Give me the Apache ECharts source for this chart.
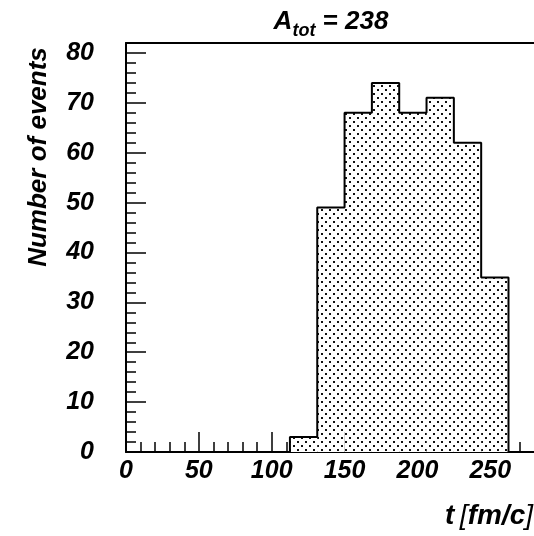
<!DOCTYPE html>
<html>
<head>
<meta charset="utf-8">
<script src="https://cdn.jsdelivr.net/npm/echarts@6/dist/echarts.min.js"></script>
<style>
  html, body { margin: 0; padding: 0; background: #fff; }
  #chart { width: 534px; height: 536px; }
</style>
</head>
<body>
<div id="chart"></div>
<script>
// histogram bins (t in fm/c) and counts
var binEdges = [112.5, 131.25, 150, 168.75, 187.5, 206.25, 225, 243.75, 262.5];
var counts = [3, 49, 68, 74, 68, 71, 62, 35];
var xMajorTicks = [0, 50, 100, 150, 200, 250];

var font = '"Liberation Sans", Arial, sans-serif';

// dotted fill like the ROOT hatch style
var tile = document.createElement('canvas');
tile.width = 8;
tile.height = 8;
var tctx = tile.getContext('2d');
tctx.fillStyle = '#fff';
tctx.fillRect(0, 0, 8, 8);
tctx.fillStyle = '#111';
tctx.fillRect(1, 1, 2, 2);
tctx.fillRect(5, 5, 2, 2);

var bars = [];
for (var i = 0; i < counts.length; i++) {
    bars.push([binEdges[i], binEdges[i + 1], counts[i]]);
}
var outline = [[binEdges[0], 0]];
for (var j = 0; j < counts.length; j++) {
    outline.push([binEdges[j], counts[j]]);
    outline.push([binEdges[j + 1], counts[j]]);
}
outline.push([binEdges[binEdges.length - 1], 0]);

var labelStyle = {
    color: '#000',
    fontFamily: font,
    fontStyle: 'italic',
    fontWeight: 'bold',
    fontSize: 25
};

var chart = echarts.init(document.getElementById('chart'));
chart.setOption({
    animation: false,
    grid: { left: 126, top: 43, right: 0, bottom: 84 },
    xAxis: [{
        type: 'value',
        min: 0,
        max: 280,
        interval: 50,
        axisLine: { lineStyle: { color: '#000', width: 2 } },
        axisTick: { inside: true, length: 20, customValues: xMajorTicks, lineStyle: { color: '#000', width: 1.5 } },
        minorTick: { show: true, splitNumber: 5, length: 10, lineStyle: { color: '#000', width: 1.5 } },
        splitLine: { show: false },
        axisLabel: Object.assign({ margin: 7, showMaxLabel: false }, labelStyle)
    }, {
        type: 'value',
        position: 'top',
        min: 0,
        max: 280,
        axisLine: { show: true, lineStyle: { color: '#000', width: 2 } },
        axisTick: { show: false },
        axisLabel: { show: false },
        splitLine: { show: false }
    }],
    yAxis: {
        type: 'value',
        min: 0,
        max: 82,
        interval: 10,
        axisLine: { show: true, lineStyle: { color: '#000', width: 2 } },
        axisTick: { inside: true, length: 20, lineStyle: { color: '#000', width: 1.5 } },
        minorTick: { show: true, splitNumber: 5, length: 10, lineStyle: { color: '#000', width: 1.5 } },
        splitLine: { show: false },
        axisLabel: Object.assign({ margin: 32, showMaxLabel: false }, labelStyle)
    },
    graphic: [{
        type: 'text',
        x: 331,
        y: 22,
        style: {
            text: '{a|A}{s|tot}{a| = 238}',
            align: 'center',
            verticalAlign: 'middle',
            rich: {
                a: { fontFamily: font, fontStyle: 'italic', fontWeight: 'bold', fontSize: 26, fill: '#000' },
                s: { fontFamily: font, fontStyle: 'italic', fontWeight: 'bold', fontSize: 18, fill: '#000', padding: [18, 0, 0, 0] }
            }
        }
    }, {
        type: 'text',
        x: 39,
        y: 157,
        rotation: Math.PI / 2,
        style: {
            text: 'Number of events',
            align: 'center',
            verticalAlign: 'middle',
            fontFamily: font,
            fontStyle: 'italic',
            fontWeight: 'bold',
            fontSize: 26,
            fill: '#000'
        }
    }, {
        type: 'text',
        x: 533,
        y: 516,
        style: {
            text: '{b|t}{sp| }{n|[}{b|fm/c}{n|]}',
            align: 'right',
            verticalAlign: 'middle',
            rich: {
                b: { fontFamily: font, fontStyle: 'italic', fontWeight: 'bold', fontSize: 28, fill: '#000' },
                sp: { fontFamily: font, fontSize: 20 },
                n: { fontFamily: font, fontStyle: 'italic', fontWeight: 'normal', fontSize: 28, fill: '#000' }
            }
        }
    }],
    series: [{
        type: 'custom',
        data: bars,
        renderItem: function (params, api) {
            var p0 = api.coord([api.value(0), api.value(2)]);
            var p1 = api.coord([api.value(1), 0]);
            return {
                type: 'rect',
                shape: { x: p0[0], y: p0[1], width: p1[0] - p0[0], height: p1[1] - p0[1] },
                style: { fill: { image: tile, repeat: 'repeat' } }
            };
        },
        z: 1
    }, {
        type: 'line',
        data: outline,
        symbol: 'none',
        lineStyle: { color: '#000', width: 2 },
        z: 3
    }]
});
</script>
</body>
</html>
